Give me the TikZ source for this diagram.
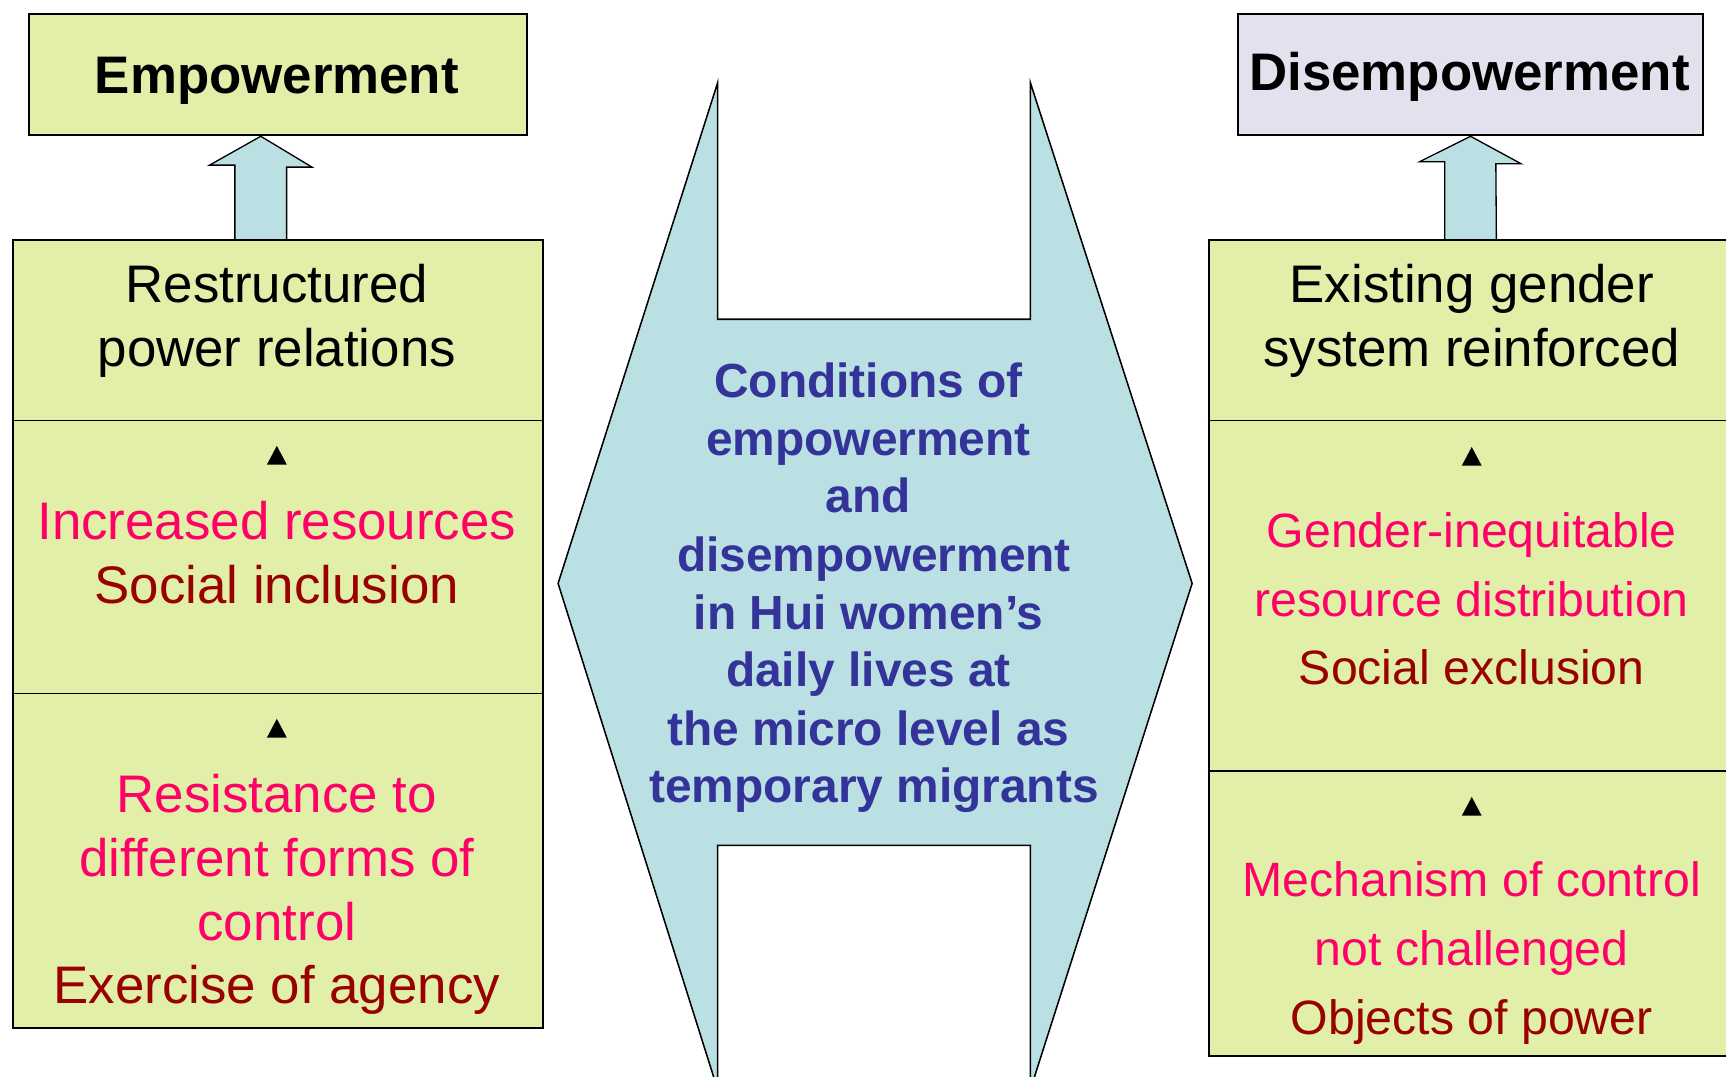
\documentclass[tikz,border=0pt]{standalone}
\usepackage{fontspec}
\setmainfont{Liberation Sans}
\usetikzlibrary{calc}
\definecolor{boxgreen}{RGB}{225,239,169}
\definecolor{arrowblue}{RGB}{187,224,227}
\definecolor{lav}{RGB}{226,226,238}
\definecolor{navy}{RGB}{51,51,153}
\definecolor{pinkred}{RGB}{255,0,102}
\definecolor{darkred}{RGB}{153,0,0}
\begin{document}
\begin{tikzpicture}[x=1pt,y=-1pt,
  panel/.style={draw=black,line width=1.8pt,fill=boxgreen,inner sep=0pt,anchor=north west},
  divider/.style={line width=1.8pt},
  fatarrow/.style={draw=black,line width=1.2pt,fill=arrowblue,line join=miter},
  txt/.style={inner sep=0pt,anchor=base,font=\fontsize{48}{58}\selectfont},
  stxt/.style={inner sep=0pt,anchor=base,font=\fontsize{43.8}{52}\selectfont},
  btxt/.style={inner sep=0pt,anchor=base,font=\fontsize{48}{58}\selectfont\bfseries},
  ctxt/.style={inner sep=0pt,anchor=base,text=navy,font=\fontsize{43.5}{52}\selectfont\bfseries},
  pk/.style={txt,text=pinkred},
  dr/.style={txt,text=darkred},
  spk/.style={stxt,text=pinkred},
  sdr/.style={stxt,text=darkred},
  tri/.style={fill=black}]
\useasboundingbox (0,0) rectangle (1568,978);

% central double arrow shape
\coordinate (cTL) at (652,75);
\coordinate (cTR) at (936,75);
\coordinate (cBL) at (652,990);
\coordinate (cBR) at (936,990);
\draw[fatarrow,line width=1.4pt] (cTL) -- (652,290) -- (936,290) -- (cTR) -- (1083,530) -- (cBR)
   -- (936,768) -- (652,768) -- (cBL) -- (507,530) -- cycle;

% top boxes
\node[panel,minimum width=453pt,minimum height=110pt] (emp) at (25,12) {};
\node[panel,fill=lav,minimum width=422pt,minimum height=110pt] (dis) at (1124,12) {};
\node[btxt] (empt) at (251.5,85) {Empowerment};
\node[btxt] (dist) at (1335,82) {Disempowerment};

% left panel
\node[panel,minimum width=481pt,minimum height=716pt] (lb) at (11,217) {};
\draw[divider] (lb.west |- 0,382) coordinate (ld1a) -- (lb.east |- 0,382) coordinate (ld1b);
\draw[divider] (lb.west |- 0,630) coordinate (ld2a) -- (lb.east |- 0,630) coordinate (ld2b);

% right panel
\node[panel,minimum width=480pt,minimum height=741pt] (rb) at (1097,217) {};
\draw[divider] (rb.west |- 0,382) coordinate (rd1a) -- (rb.east |- 0,382) coordinate (rd1b);
\draw[divider] (rb.west |- 0,700) coordinate (rd2a) -- (rb.east |- 0,700) coordinate (rd2b);

% block arrows
\coordinate (la) at ($(emp.south)+(-15.5,0)$);
\draw[fatarrow] ($(la |- lb.north)+(-23.5,0)$) -- ++(0,-67) -- ++(-23,0) -- (la) -- ++(46.5,28) -- ++(-23,0) -- ($(la |- lb.north)+(23.5,0)$);
\coordinate (ra) at (dis.south);
\draw[fatarrow] ($(ra |- rb.north)+(-23.5,0)$) -- ++(0,-70) -- ++(-23,0) -- (ra) -- ++(46,25) -- ++(-23,0) -- ($(ra |- rb.north)+(23.5,0)$);

% left texts
\node[txt] (l1) at (251.5,275) {Restructured};
\node[txt] (l2) at (251.5,333) {power relations};
\node[pk] (l3) at (251.5,490) {Increased resources};
\node[dr] (l4) at (251.5,548) {Social inclusion};
\node[pk] (l5) at (251.5,738) {Resistance to};
\node[pk] (l6) at (251.5,796) {different forms of};
\node[pk] (l7) at (251.5,854) {control};
\node[dr] (l8) at (251.5,912) {Exercise of agency};

% right texts
\node[txt] (r1) at (1337,275) {Existing gender};
\node[txt] (r2) at (1337,333) {system reinforced};
\node[spk] (r3) at (1337,497) {Gender-inequitable};
\node[spk] (r4) at (1337,560) {resource distribution};
\node[sdr] (r5) at (1337,622) {Social exclusion};
\node[spk] (r6) at (1337,814) {Mechanism of control};
\node[spk] (r7) at (1337,877) {not challenged};
\node[sdr] (r8) at (1337,940) {Objects of power};

% triangles
\foreach \n/\x/\y in {t1/251.5/414, t2/251.5/662, t3/1337/415, t4/1337/733}{
  \coordinate (\n) at (\x,\y);
  \fill[tri] ($(\n)+(-9,8)$) -- ($(\n)+(9,8)$) -- ($(\n)+(0,-9)$) -- cycle;
}

% centre text
\node[ctxt] (c1) at (789,361) {Conditions of};
\node[ctxt] (c2) at (789,414) {empowerment};
\node[ctxt] (c3) at (789,466) {and};
\node[ctxt] (c4) at (794,519) {disempowerment};
\node[ctxt] (c5) at (789,572) {in Hui women’s};
\node[ctxt] (c6) at (789,624) {daily lives at};
\node[ctxt] (c7) at (789,677) {the micro level as};
\node[ctxt] (c8) at (794,729) {temporary migrants};
\end{tikzpicture}
\end{document}
